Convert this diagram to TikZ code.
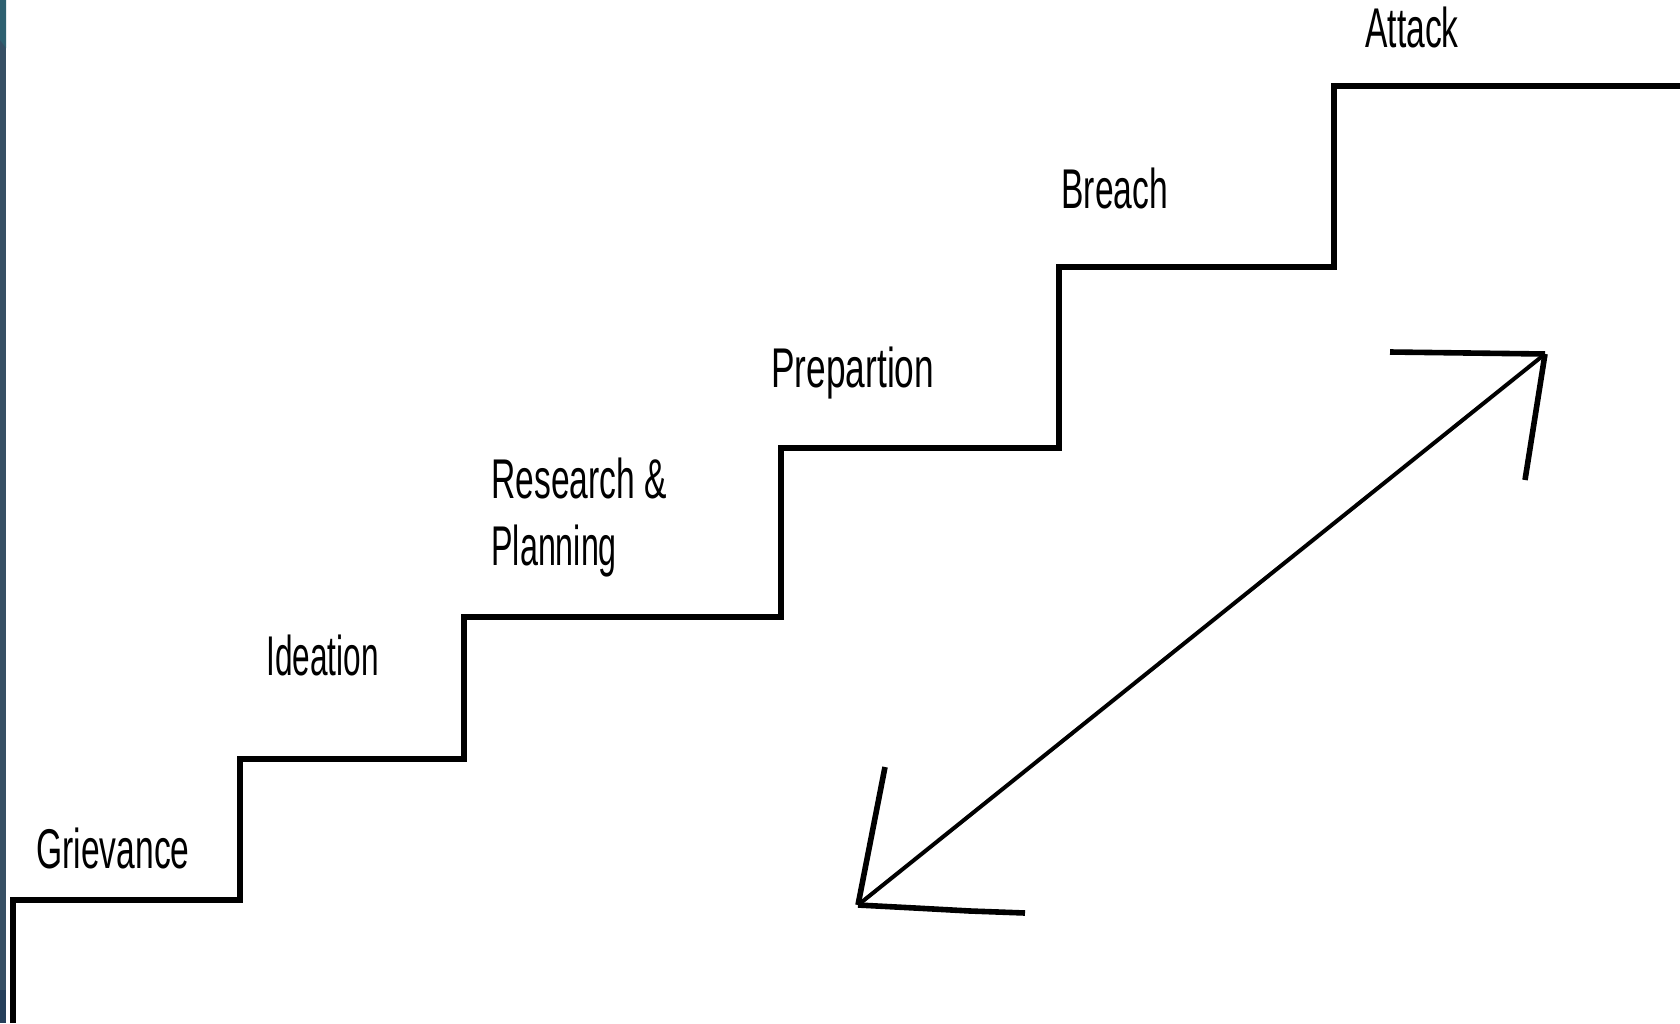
\documentclass[tikz,border=0pt]{standalone}
\usepackage{fontspec}
\setmainfont{Liberation Sans}[FakeStretch=0.6]
\begin{document}
\begin{tikzpicture}[x=0.5pt,y=-0.5pt,
  stair/.style={line width=3pt,line join=miter},
  shaft/.style={line width=2pt},
  barb/.style={line width=2.8pt,line cap=butt},
  stage/.style={anchor=base west,inner sep=0pt,font=\fontsize{28pt}{33pt}\selectfont}]
\useasboundingbox (0,0) rectangle (1680,1023);
\fill[white] (0,0) rectangle (1680,1023);
% dark strip along the left edge
\fill[fill={rgb,255:red,54;green,79;blue,100}] (0,0) rectangle (6,1023);
\fill[fill={rgb,255:red,46;green,96;blue,112}] (0,0) -- (6,0) -- (6,48) -- (0,40) -- cycle;
\fill[fill={rgb,255:red,38;green,64;blue,90}] (0,990) rectangle (6,1023);

% staircase
\draw[stair] (12.5,1023) -- (12.5,900) -- (239.5,900) -- (239.5,758.5)
  -- (464,758.5) -- (464,617) -- (781,617) -- (781,448) -- (1058.5,448)
  -- (1058.5,267) -- (1333.5,267) -- (1333.5,85.5) -- (1680,85.5);

% stage labels
\node[stage] (griev) at (36,868) {Grievance};
\node[stage] (idea) at (266,675) {\scalebox{0.94}[1]{Ideation}};
\node[stage] (research) at (491,498) {Research \&};
\node[stage] (plan) at (491,565) {\scalebox{0.96}[1]{Planning}};
\node[stage] (prep) at (771,387) {\scalebox{1.05}[1]{Prepartion}};
\node[stage] (breach) at (1061,208) {Breach};
\node[stage] (attack) at (1365,47) {Attack};

% double-headed arrow drawn by hand
\coordinate (tail) at (858,905);
\coordinate (tip) at (1545,354);
\draw[shaft] (tail) -- (tip);
\draw[barb] (tail) -- (885,767);
\draw[barb] (tail) -- (915,908) -- (970,911) -- (1025,913);
\draw[barb] (tip) -- (1390,352);
\draw[barb] (tip) -- (1525,480);
\end{tikzpicture}
\end{document}
